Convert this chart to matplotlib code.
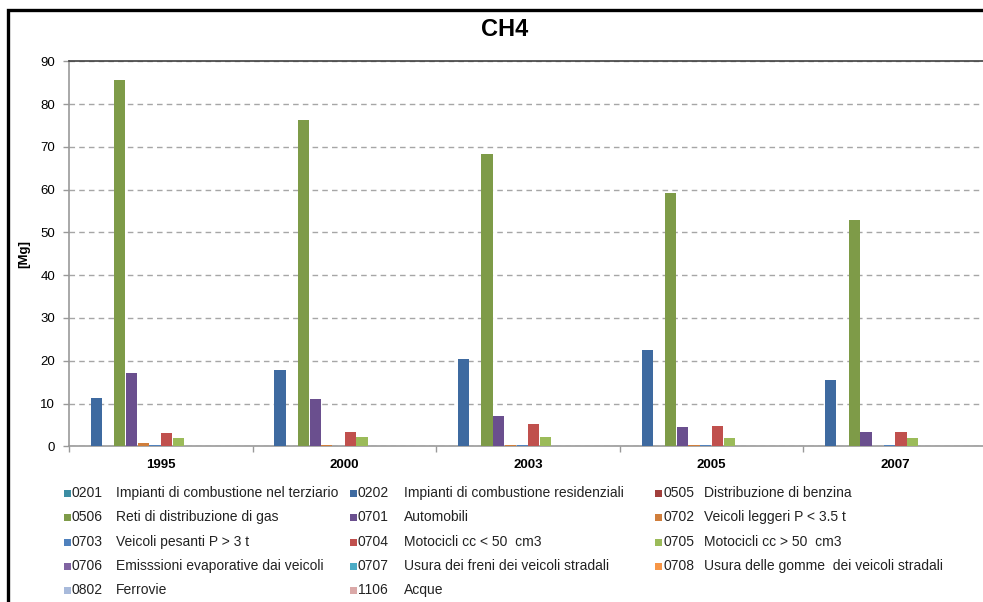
import numpy as np
import matplotlib
matplotlib.use('Agg')
import matplotlib.pyplot as plt
from matplotlib.patches import Rectangle

plt.rcParams['font.family'] = ['Liberation Sans', 'DejaVu Sans']

# ===== 数据 =====
years = ['1995', '2000', '2003', '2005', '2007']
codes = ['0201', '0202', '0505', '0506', '0701', '0702', '0703',
         '0704', '0705', '0706', '0707', '0708', '0802', '1106']
names = ['Impianti di combustione nel terziario',
         'Impianti di combustione residenziali',
         'Distribuzione di benzina',
         'Reti di distribuzione di gas',
         'Automobili',
         'Veicoli leggeri P < 3.5 t',
         'Veicoli pesanti P > 3 t',
         'Motocicli cc < 50  cm3',
         'Motocicli cc > 50  cm3',
         'Emisssioni evaporative dai veicoli',
         'Usura dei freni dei veicoli stradali',
         'Usura delle gomme  dei veicoli stradali',
         'Ferrovie',
         'Acque']
colors = ['#3C8DA3', '#3E6AA0', '#A13F3C', '#7E9B48', '#6A4F8E', '#D07E3B',
          '#4F81BD', '#C0504D', '#9BBB59', '#8064A2', '#4BACC6', '#F79646',
          '#A8BADB', '#DBA9A8']

# CH4 [Mg]，每行一个排放源，列对应 years
values = [
    [0.0, 0.0, 0.0, 0.0, 0.0],        # 0201
    [11.2, 17.8, 20.3, 22.4, 15.4],   # 0202
    [0.0, 0.0, 0.0, 0.0, 0.0],        # 0505
    [85.6, 76.3, 68.3, 59.2, 52.8],   # 0506
    [17.1, 11.0, 7.1, 4.4, 3.3],      # 0701
    [0.7, 0.4, 0.3, 0.3, 0.0],        # 0702
    [0.4, 0.0, 0.3, 0.3, 0.3],        # 0703
    [3.1, 3.3, 5.3, 4.8, 3.3],        # 0704
    [1.9, 2.2, 2.1, 1.9, 1.9],        # 0705
    [0.0, 0.0, 0.0, 0.0, 0.0],        # 0706
    [0.0, 0.0, 0.0, 0.0, 0.0],        # 0707
    [0.0, 0.0, 0.0, 0.0, 0.0],        # 0708
    [0.0, 0.0, 0.0, 0.0, 0.0],        # 0802
    [0.0, 0.0, 0.0, 0.0, 0.0],        # 1106
]

W, H = 983, 602
fig = plt.figure(figsize=(W / 100, H / 100), dpi=100)

# 外框 (右、下两边在画布外)
fig.patches.append(Rectangle((8 / W, -0.05), 1.1, 1 - 9.5 / H + 0.05,
                             transform=fig.transFigure, fill=False,
                             edgecolor='black', linewidth=2.4))

ax = fig.add_axes([69 / W, 1 - 446.3 / H, (987 - 69) / W, (446.3 - 61.3) / H])

n = len(codes)
x = np.arange(len(years))
bw = 1 / 15.7
for k in range(n):
    xs = x - n * bw / 2 + (k + 0.5) * bw
    v = np.array(values[k])
    ax.bar(xs[v > 0], v[v > 0], bw * 0.96, color=colors[k], linewidth=0,
           zorder=3)

ax.set_xlim(-0.5, len(years) - 0.5)
ax.set_ylim(0, 90)
ax.set_yticks(np.arange(0, 91, 10))
ax.yaxis.grid(True, linestyle=(0, (4, 3)), color='#A6A6A6', linewidth=1)
ax.set_axisbelow(True)

ax.set_xticks(x)
ax.set_xticklabels(years, fontsize=9.5, fontweight='bold')
ax.set_xticks(np.arange(-0.5, len(years)), minor=True)
ax.tick_params(axis='x', which='major', length=0, pad=9)
ax.tick_params(axis='x', which='minor', length=4, color='#999999', width=1)
ax.tick_params(axis='y', length=4, color='#999999', width=1, labelsize=9.5,
               pad=6)

for s in ['left', 'bottom']:
    ax.spines[s].set_color('#999999')
    ax.spines[s].set_linewidth(1.2)
ax.spines['top'].set_color('#404040')
ax.spines['top'].set_linewidth(1.2)
ax.spines['right'].set_visible(False)

ax.set_ylabel('[Mg]', fontsize=9.5, fontweight='bold')
ax.yaxis.set_label_coords(-(69 - 30) / (987 - 69), 0.5)

fig.text(505 / W, 1 - 30 / H, 'CH4', ha='center', va='center',
         fontsize=17, fontweight='bold')

# 图例：三列，按行排列
col_sq = [64, 350, 655]
col_code = [72, 358, 664]
col_name = [116, 404, 704]
row_y = [493, 517, 542, 566, 590]
for i in range(n):
    r, c = divmod(i, 3)
    yc = 1 - row_y[r] / H
    fig.patches.append(Rectangle((col_sq[c] / W, yc - 3.5 / H), 7 / W, 7 / H,
                                 transform=fig.transFigure,
                                 facecolor=colors[i], edgecolor='none'))
    fig.text(col_code[c] / W, yc, codes[i], ha='left', va='center',
             fontsize=10, color='#222222')
    fig.text(col_name[c] / W, yc, names[i], ha='left', va='center',
             fontsize=10, color='#222222')

fig.savefig('out.png', dpi=100)
